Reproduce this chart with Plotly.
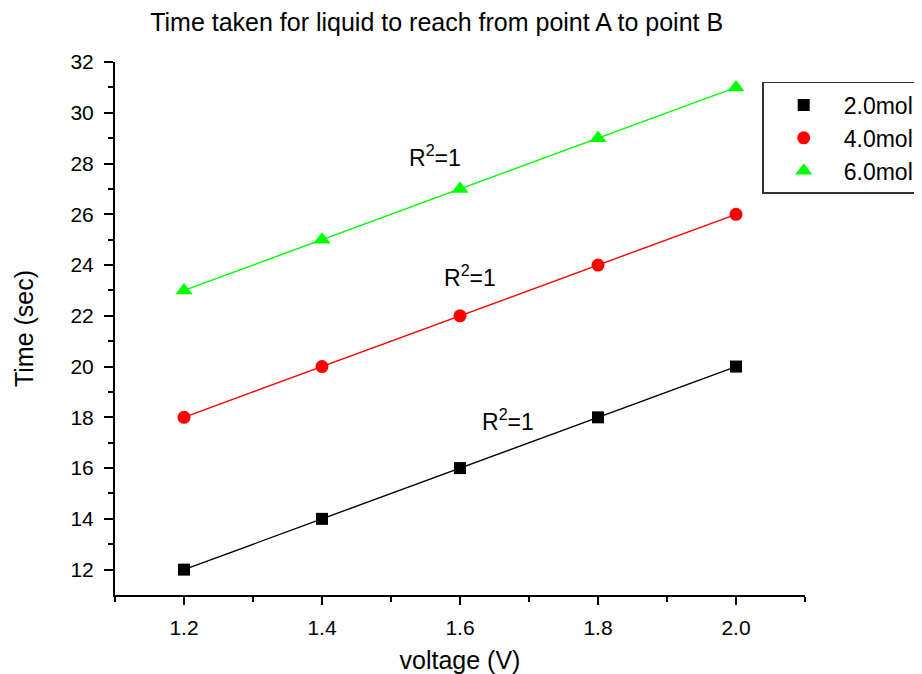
import plotly.graph_objects as go

voltage = [1.2, 1.4, 1.6, 1.8, 2.0]
series_names = ["2.0mol", "4.0mol", "6.0mol"]
time_2mol = [12, 14, 16, 18, 20]
time_4mol = [18, 20, 22, 24, 26]
time_6mol = [23, 25, 27, 29, 31]
r2_labels = ["R<sup>2</sup>=1", "R<sup>2</sup>=1", "R<sup>2</sup>=1"]
r2_x = [1.669, 1.614, 1.564]
r2_y = [17.9, 23.55, 28.3]
x_ticks = [1.2, 1.4, 1.6, 1.8, 2.0]
x_ticktext = ["1.2", "1.4", "1.6", "1.8", "2.0"]
y_ticks = [12, 14, 16, 18, 20, 22, 24, 26, 28, 30, 32]

colors = ["#000000", "#ff0000", "#00ff00"]
symbols = ["square", "circle", "triangle-up"]
sizes = [12, 13, 15]

FONT = "Liberation Sans, Arial, sans-serif"

fig = go.Figure()
# fitted lines (not in legend)
for name, ys, c in zip(series_names, [time_2mol, time_4mol, time_6mol], colors):
    fig.add_trace(go.Scatter(
        x=voltage, y=ys, name=name + " fit", mode="lines", showlegend=False,
        line=dict(color=c, width=1.4), hoverinfo="skip",
    ))
# data points
for name, ys, c, s, sz in zip(series_names, [time_2mol, time_4mol, time_6mol], colors, symbols, sizes):
    fig.add_trace(go.Scatter(
        x=voltage, y=ys, name=name, mode="markers",
        marker=dict(color=c, symbol=s, size=sz),
    ))

for t, x, y in zip(r2_labels, r2_x, r2_y):
    fig.add_annotation(x=x, y=y, text=t, showarrow=False,
                       font=dict(family=FONT, size=23, color="black"))

fig.update_layout(
    width=914, height=666,
    plot_bgcolor="white", paper_bgcolor="white",
    margin=dict(l=107, r=117, t=54, b=79, autoexpand=False),
    font=dict(family=FONT, color="black"),
    title=dict(text="Time taken for liquid to reach from point A to point B",
               x=0.469, xanchor="center", y=0.979, yanchor="middle",
               font=dict(family=FONT, size=25, color="black")),
    legend=dict(x=0.938, xanchor="left", y=0.9625, yanchor="top",
                bordercolor="#333333", borderwidth=1.5, bgcolor="white",
                font=dict(family=FONT, size=23, color="black"),
                itemwidth=70, tracegroupgap=0),
    showlegend=True,
)

fig.update_xaxes(
    range=[1.1, 2.1], tickvals=x_ticks, ticktext=x_ticktext,
    showgrid=False, zeroline=False, showline=True, linecolor="black", linewidth=2,
    ticks="outside", ticklen=8, tickwidth=2, tickcolor="black", ticklabelstandoff=5,
    minor=dict(tickvals=[1.1, 1.3, 1.5, 1.7, 1.9, 2.1], ticks="outside", ticklen=5, tickwidth=2, tickcolor="black"),
    tickfont=dict(family=FONT, size=21, color="black"),
    title=dict(text="voltage (V)", font=dict(family=FONT, size=25, color="black"), standoff=17),
)
fig.update_yaxes(
    range=[11, 32], tickvals=y_ticks,
    showgrid=False, zeroline=False, showline=True, linecolor="black", linewidth=2,
    ticks="outside", ticklen=9, tickwidth=2, tickcolor="black", ticklabelstandoff=6,
    minor=dict(tickvals=[13, 15, 17, 19, 21, 23, 25, 27, 29, 31], ticks="outside", ticklen=5, tickwidth=2, tickcolor="black"),
    tickfont=dict(family=FONT, size=21, color="black"),
    title=dict(text="Time (sec)", font=dict(family=FONT, size=25, color="black"), standoff=30),
)

fig.write_html("out.html")
